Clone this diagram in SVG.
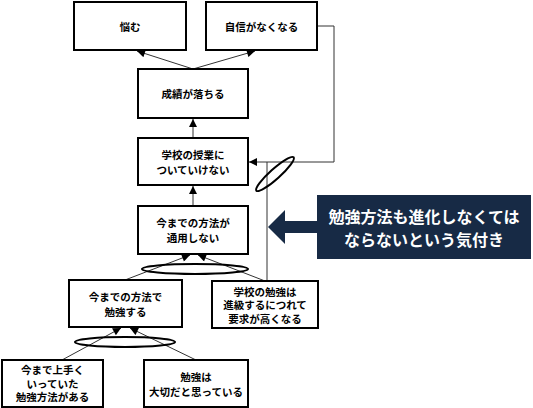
<svg xmlns="http://www.w3.org/2000/svg" width="533" height="408" viewBox="0 0 533 408">
<style>
.box{fill:#fff;stroke:#000;stroke-width:2}
.t{font-family:"Noto Sans CJK JP","Noto Sans",sans-serif;font-weight:bold;font-size:10.5px;fill:#000;text-anchor:middle;dominant-baseline:central}
.c{fill:none;stroke:#333;stroke-width:1}
.el{fill:none;stroke:#000;stroke-width:2}
.ct{font-family:"Noto Sans CJK JP","Noto Sans",sans-serif;font-weight:bold;font-size:16px;fill:#fff;text-anchor:middle;dominant-baseline:central}
</style>
<defs>
<marker id="ah" viewBox="0 0 10 10" refX="10" refY="5" markerWidth="9" markerHeight="8" markerUnits="userSpaceOnUse" orient="auto">
<path d="M0,0 L10,5 L0,10 Z" fill="#000"/>
</marker>
</defs>
<rect width="533" height="408" fill="#fff"/>
<g id="connectors">
<line class="c" x1="193" y1="69" x2="137" y2="51" marker-end="url(#ah)"/>
<line class="c" x1="193" y1="69" x2="255" y2="51" marker-end="url(#ah)"/>
<line class="c" x1="193" y1="138" x2="193" y2="119" marker-end="url(#ah)"/>
<polyline class="c" points="317,26 334,26 334,162 249,162" marker-end="url(#ah)"/>
<line class="c" x1="267" y1="162" x2="267" y2="281"/>
<line class="c" x1="193" y1="206" x2="193" y2="186" marker-end="url(#ah)"/>
<line class="c" x1="125" y1="280" x2="190" y2="255" marker-end="url(#ah)"/>
<line class="c" x1="265" y1="281" x2="198" y2="255" marker-end="url(#ah)"/>
<line class="c" x1="62" y1="360" x2="121" y2="328" marker-end="url(#ah)"/>
<line class="c" x1="196" y1="360" x2="130" y2="328" marker-end="url(#ah)"/>
<ellipse class="el" cx="275" cy="174" rx="25" ry="5" transform="rotate(-42 275 174)"/>
<ellipse class="el" cx="195" cy="269" rx="53" ry="5"/>
<ellipse class="el" cx="125" cy="342" rx="50" ry="5"/>
</g>
<g id="n1"><rect class="box" x="74" y="2" width="112" height="48"/><text class="t" x="130" y="26">悩む</text></g>
<g id="n2"><rect class="box" x="206" y="2" width="111" height="48"/><text class="t" x="261.5" y="26">自信がなくなる</text></g>
<g id="n3"><rect class="box" x="138" y="69" width="110" height="49"/><text class="t" x="193" y="93.5">成績が落ちる</text></g>
<g id="n4"><rect class="box" x="138" y="138" width="110" height="47"/><text class="t" x="193" y="154.5">学校の授業に</text><text class="t" x="193" y="169.5">ついていけない</text></g>
<g id="n5"><rect class="box" x="138" y="206" width="110" height="48"/><text class="t" x="193" y="222.5">今までの方法が</text><text class="t" x="193" y="237.5">通用しない</text></g>
<g id="n6"><rect class="box" x="69" y="280" width="113" height="47"/><text class="t" x="125.5" y="296">今までの方法で</text><text class="t" x="125.5" y="311">勉強する</text></g>
<g id="n7"><rect class="box" x="212" y="281" width="106" height="47"/><text class="t" x="265" y="291">学校の勉強は</text><text class="t" x="265" y="304.5">進級するにつれて</text><text class="t" x="265" y="318">要求が高くなる</text></g>
<g id="n8"><rect class="box" x="2" y="360" width="101" height="47"/><text class="t" x="52.5" y="369.5">今まで上手く</text><text class="t" x="52.5" y="383">いっていた</text><text class="t" x="52.5" y="396.5">勉強方法がある</text></g>
<g id="n9"><rect class="box" x="144" y="360" width="104" height="47"/><text class="t" x="196" y="376">勉強は</text><text class="t" x="196" y="391">大切だと思っている</text></g>
<g id="callout">
<polygon points="268,227 285,210 285,221 318,221 318,233 285,233 285,244" fill="#172a45"/>
<rect x="317" y="195" width="214" height="64" fill="#172a45"/>
<text class="ct" x="424" y="216">勉強方法も進化しなくては</text>
<text class="ct" x="424" y="239">ならないという気付き</text>
</g>
</svg>
